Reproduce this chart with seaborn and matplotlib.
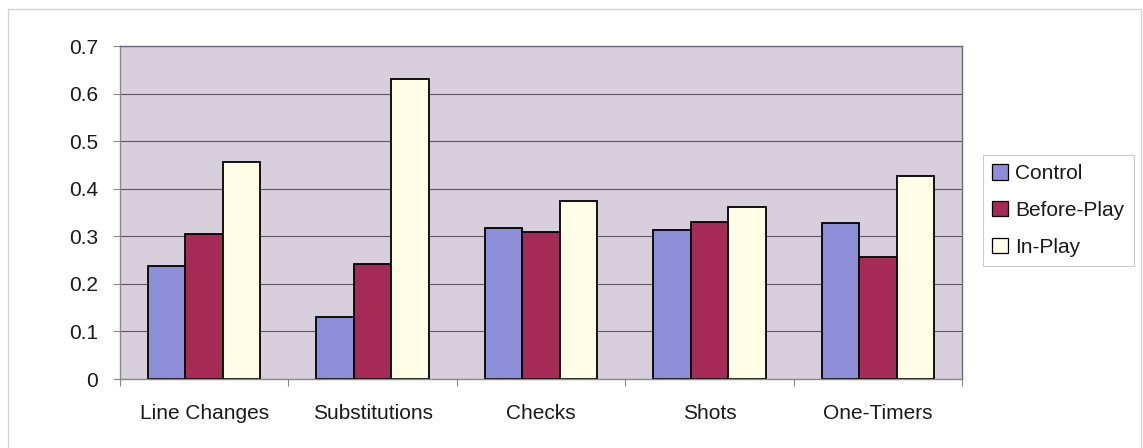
import numpy as np
import pandas as pd
import seaborn as sns
import matplotlib
matplotlib.use("Agg")
import matplotlib.pyplot as plt
from matplotlib.patches import Patch, Rectangle
from matplotlib.ticker import FixedLocator

# Mean proportions per event type and condition
categories = ["Line Changes", "Substitutions", "Checks", "Shots", "One-Timers"]
conditions = ["Control", "Before-Play", "In-Play"]
control = [0.237, 0.130, 0.317, 0.314, 0.328]
before_play = [0.304, 0.242, 0.310, 0.330, 0.257]
in_play = [0.456, 0.631, 0.375, 0.362, 0.426]
y_ticks = [0, 0.1, 0.2, 0.3, 0.4, 0.5, 0.6, 0.7]
y_tick_labels = ["0", "0.1", "0.2", "0.3", "0.4", "0.5", "0.6", "0.7"]

colors = ["#8E8ED8", "#A52A55", "#FFFDE6"]

df = pd.DataFrame({
    "category": categories * 3,
    "condition": [c for c in conditions for _ in categories],
    "value": control + before_play + in_play,
})

sns.set_theme(style="white")
plt.rcParams["font.family"] = ["Liberation Sans", "DejaVu Sans"]

fig = plt.figure(figsize=(11.43, 4.48), dpi=100)
ax = fig.add_axes([120 / 1143, 1 - 379 / 448, (962 - 120) / 1143, (379 - 46) / 448])

ax.set_facecolor("#D8CFDD")
ax.set_axisbelow(True)
ax.yaxis.grid(True, color="#5A5560", linewidth=0.8)

sns.barplot(
    data=df, x="category", y="value", hue="condition",
    order=categories, hue_order=conditions, palette=colors,
    width=2 / 3, edgecolor="black", linewidth=1.3, saturation=1,
    errorbar=None, legend=False, ax=ax,
)

ax.set_xlim(-0.5, len(categories) - 0.5)
ax.set_ylim(0, 0.7)
ax.set_yticks(y_ticks)
ax.set_yticklabels(y_tick_labels)
ax.set_xlabel("")
ax.set_ylabel("")

# Category boundary ticks, labels centred in each category
ax.xaxis.set_minor_locator(FixedLocator(np.arange(-0.5, len(categories), 1.0)))
ax.tick_params(axis="x", which="major", length=0, pad=18, labelsize=15, colors="#1a1a1a")
ax.tick_params(axis="x", which="minor", length=5, width=0.8, color="#888888", direction="out", bottom=True)
ax.tick_params(axis="y", which="major", length=5, width=0.8, color="#888888", direction="out",
               left=True, pad=11, labelsize=15, labelcolor="#1a1a1a")

for side, sp in ax.spines.items():
    sp.set_visible(True)
    sp.set_color("#6E6878")
    sp.set_linewidth(1.0)
ax.spines["bottom"].set_color("#8A8A8A")
ax.spines["left"].set_color("#8A8A8A")

# Legend
handles = [Patch(facecolor=c, edgecolor="black", linewidth=0.9) for c in colors]
leg = fig.legend(
    handles, conditions, loc="upper left", bbox_to_anchor=(983 / 1143, 1 - 155 / 448),
    borderaxespad=0, frameon=True, fancybox=False, fontsize=15,
    handlelength=0.75, handleheight=0.75, handletextpad=0.35,
    labelspacing=0.85, borderpad=0.45,
)
leg.get_frame().set_edgecolor("#BDBDBD")
leg.get_frame().set_linewidth(0.8)
for t in leg.get_texts():
    t.set_color("#1a1a1a")

# Chart area frame
fig.patches.append(Rectangle((8 / 1143, -10 / 448), 1133 / 1143, 449 / 448,
                             transform=fig.transFigure, fill=False,
                             edgecolor="#D4D4D4", linewidth=1.0))

fig.savefig("out.png", dpi=100)
